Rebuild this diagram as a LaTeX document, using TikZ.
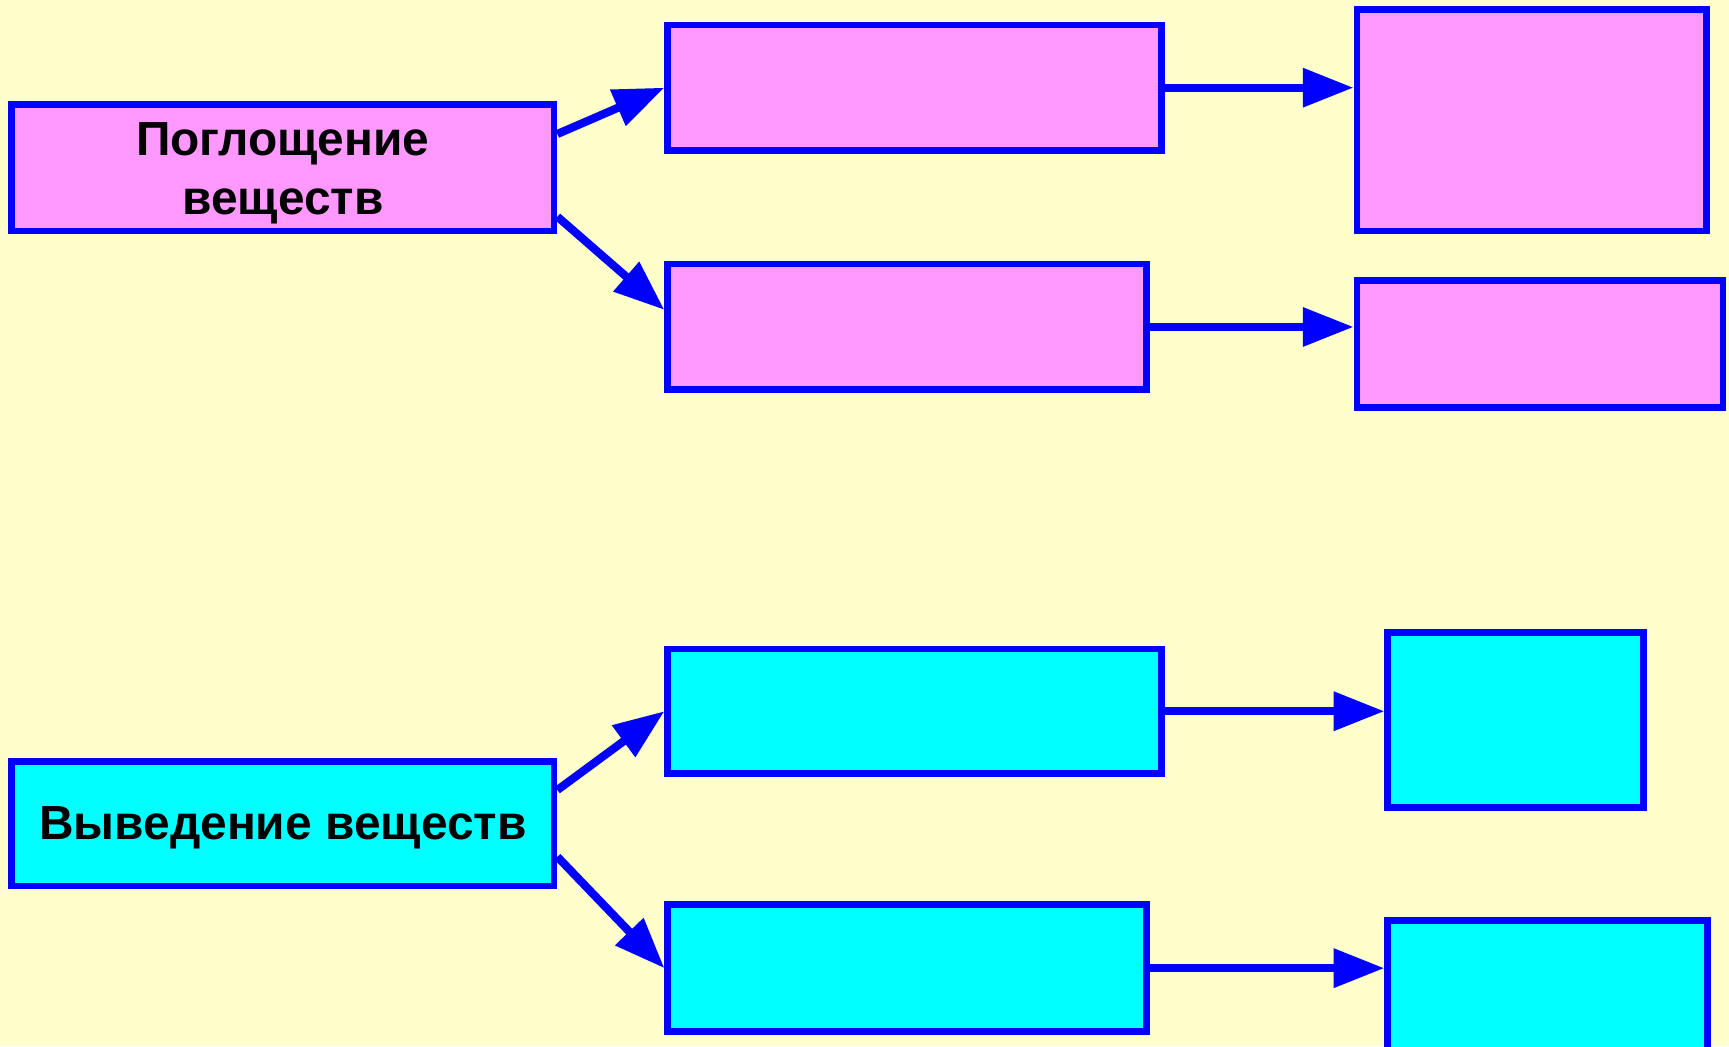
\documentclass[tikz,border=0pt]{standalone}
\usepackage{fontspec}
\setmainfont{Liberation Sans}
\usetikzlibrary{arrows.meta}
\definecolor{bgyellow}{HTML}{FFFFCC}
\definecolor{pinkfill}{HTML}{FF99FF}
\definecolor{cyanfill}{HTML}{00FFFF}
\definecolor{edgeblue}{HTML}{0000FF}
\tikzset{
  box/.style={draw=edgeblue, line width=3pt, rectangle, inner sep=0pt},
  pbox/.style={box, fill=pinkfill},
  cbox/.style={box, fill=cyanfill},
  boxtext/.style={inner sep=0pt, align=center, text=black,
    font=\bfseries\fontsize{21.7}{26.5}\selectfont},
  conn/.style={draw=edgeblue, line width=3.7pt, -{Triangle[length=23pt,width=17pt]}}
}
\begin{document}
\begin{tikzpicture}[x=0.5pt,y=-0.5pt]
\fill[bgyellow] (0,0) rectangle (1568,948.6);
\useasboundingbox (0,0) rectangle (1568,948.6);
% top group
\node[pbox, minimum width=246pt, minimum height=57.5pt] (A) at (256.5,152) {};
\node[boxtext] (At) at ([yshift=-2.6pt]A.center) {Поглощение\\веществ};
\node[pbox, minimum width=224pt, minimum height=57pt] (B1) at (829.5,79.5) {};
\node[pbox, minimum width=217pt, minimum height=57pt] (B2) at (822.5,296.5) {};
\node[pbox, minimum width=158.5pt, minimum height=100.5pt] (C1) at (1389,109) {};
\node[pbox, minimum width=166pt, minimum height=57.5pt] (C2) at (1396.5,312) {};
% bottom group
\node[cbox, minimum width=246pt, minimum height=56.5pt] (D) at (256.5,747) {};
\node[boxtext] (Dt) at ([yshift=-2pt]D.center) {Выведение веществ};
\node[cbox, minimum width=224pt, minimum height=56.5pt] (E1) at (829.5,645) {};
\node[cbox, minimum width=217pt, minimum height=57.5pt] (E2) at (822.5,878) {};
\node[cbox, minimum width=116pt, minimum height=79.5pt] (F1) at (1374.5,653) {};
\node[cbox, minimum width=145pt, minimum height=66.5pt] (F2) at (1403.5,901) {};
% connectors
\draw[conn] ([yshift=15.25pt]A.east) -- (B1.west);
\draw[conn] ([yshift=-22.25pt]A.east) -- ([yshift=7.75pt]B2.west);
\draw[conn] (B1.east) -- (B1.east -| C1.west);
\draw[conn] (B2.east) -- (B2.east -| C2.west);
\draw[conn] ([yshift=15.3pt]D.east) -- (E1.west);
\draw[conn] ([yshift=-15pt]D.east) -- (E2.west);
\draw[conn] (E1.east) -- (E1.east -| F1.west);
\draw[conn] (E2.east) -- (E2.east -| F2.west);
\end{tikzpicture}
\end{document}
